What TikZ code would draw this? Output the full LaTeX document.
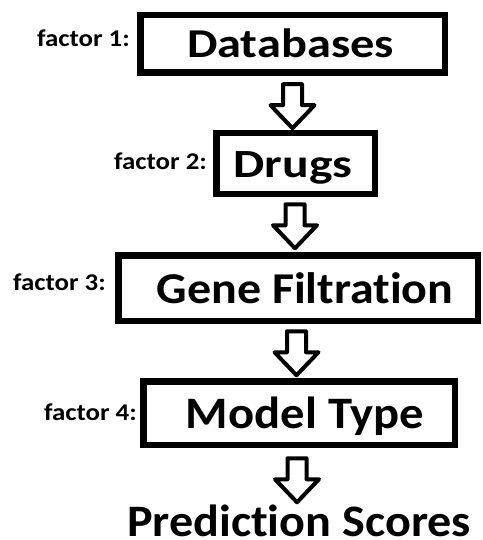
\documentclass[tikz,border=0pt]{standalone}
\usepackage{fontspec}
\setmainfont{Carlito}[Ligatures=NoCommon]
\usetikzlibrary{calc}

\tikzset{
  stagebox/.style={draw=black, line width=6.5pt, fill=white, inner sep=0pt},
  stagetext/.style n args={2}{anchor=base, inner sep=0pt,
    font=\bfseries\fontsize{#1}{#1}\selectfont\addfontfeatures{FakeStretch=#2}},
  factortext/.style={anchor=base east, inner sep=0pt,
    font=\bfseries\fontsize{24}{24}\selectfont\addfontfeatures{FakeStretch=1.12}},
  blockarr/.pic={
    \draw[line width=4pt, line join=round, fill=white]
      (-9.5,2) -- (9.5,2) -- (9.5,23) -- (22,23) -- (0,46) -- (-22,23) -- (-9.5,23) -- cycle;
  }
}

\begin{document}
\begin{tikzpicture}[x=1pt, y=-1pt]
  \useasboundingbox (0,0) rectangle (482,540);

  % stage boxes
  \node[stagebox, minimum width=304.5pt, minimum height=57.5pt] (b1) at (292.5,44) {};
  \node[stagebox, minimum width=158.5pt, minimum height=60.5pt] (b2) at (295.5,163.5) {};
  \node[stagebox, minimum width=359.5pt, minimum height=65.5pt] (b3) at (298,288) {};
  \node[stagebox, minimum width=311.5pt, minimum height=63.5pt] (b4) at (299,413) {};

  % stage titles
  \node[stagetext={41}{1.18}] (t1) at (290.5,58) {Databases};
  \node[stagetext={40}{1.24}] (t2) at (293,177) {Drugs};
  \node[stagetext={44}{1.09}] (t3) at (305,303) {Gene Filtration};
  \node[stagetext={45}{1.08}] (t4) at (305,428) {Model Type};
  \node[stagetext={45}{1.07}] (out) at (299,536) {Prediction Scores};

  % factor labels
  \node[factortext] (f1) at (130,47) {factor 1:};
  \node[factortext] (f2) at (207,169) {factor 2:};
  \node[factortext] (f3) at (106,290) {factor 3:};
  \node[factortext] (f4) at (137,420) {factor 4:};

  % block arrows between stages
  \pic at ($(b1.south)+(0,6.25)$) {blockarr};
  \pic at ($(b2.south)+(-0.5,5.25)$) {blockarr};
  \pic at ($(b3.south)+(-1.5,5.25)$) {blockarr};
  \pic at ($(b4.south)+(-2,8.25)$) {blockarr};
\end{tikzpicture}
\end{document}
